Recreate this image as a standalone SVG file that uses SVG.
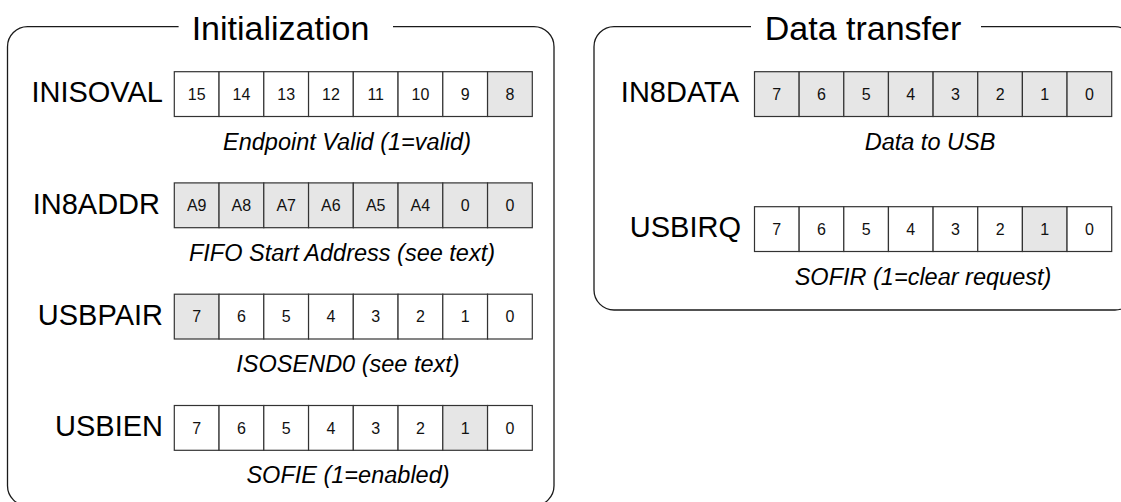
<svg xmlns="http://www.w3.org/2000/svg" width="1121" height="502" viewBox="0 0 1121 502">
<style>
.frame{fill:none;stroke:#1a1a1a;stroke-width:1.3}
.c{fill:#ffffff;stroke:#333333;stroke-width:1.2}
.g{fill:#e6e6e6;stroke:#333333;stroke-width:1.2}
.title{font-family:"Liberation Sans",Arial,sans-serif;font-size:34px;fill:#000;text-anchor:middle}
.lbl{font-family:"Liberation Sans",Arial,sans-serif;font-size:29px;fill:#000;text-anchor:end}
.n{font-family:"Liberation Sans",Arial,sans-serif;font-size:16px;fill:#111;text-anchor:middle}
.cap{font-family:"Liberation Sans",Arial,sans-serif;font-size:23.5px;font-style:italic;fill:#000;text-anchor:middle}
</style>
<rect width="1121" height="502" fill="#ffffff"/>
<g id="panel-initialization">
<path class="frame" d="M178.6,26.7 H27.5 A20,20 0 0 0 7.5,46.7 V485.7 A20,20 0 0 0 27.5,505.7 H534 A20,20 0 0 0 554,485.7 V46.7 A20,20 0 0 0 534,26.7 H393"/>
<text class="title" x="280.5" y="40">Initialization</text>
</g>
<g id="panel-data-transfer">
<path class="frame" d="M751,26.7 H614 A20,20 0 0 0 594,46.7 V290 A20,20 0 0 0 614,310 H1115 A20,20 0 0 0 1135,290 V46.7 A20,20 0 0 0 1115,26.7 H981"/>
<text class="title" x="863" y="40">Data transfer</text>
</g>
<g id="reg-INISOVAL">
<text class="lbl" x="163" y="102.3">INISOVAL</text>
<rect class="c" x="174.3" y="71.7" width="44.75" height="44.8"/>
<rect class="c" x="219.05" y="71.7" width="44.75" height="44.8"/>
<rect class="c" x="263.8" y="71.7" width="44.75" height="44.8"/>
<rect class="c" x="308.55" y="71.7" width="44.75" height="44.8"/>
<rect class="c" x="353.3" y="71.7" width="44.75" height="44.8"/>
<rect class="c" x="398.05" y="71.7" width="44.75" height="44.8"/>
<rect class="c" x="442.8" y="71.7" width="44.75" height="44.8"/>
<rect class="g" x="487.55" y="71.7" width="44.75" height="44.8"/>
<text class="n" x="196.7" y="99.7">15</text>
<text class="n" x="241.4" y="99.7">14</text>
<text class="n" x="286.2" y="99.7">13</text>
<text class="n" x="330.9" y="99.7">12</text>
<text class="n" x="375.7" y="99.7">11</text>
<text class="n" x="420.4" y="99.7">10</text>
<text class="n" x="465.2" y="99.7">9</text>
<text class="n" x="509.9" y="99.7">8</text>
<text class="cap" x="347" y="149.5">Endpoint Valid (1=valid)</text>
</g>
<g id="reg-IN8ADDR">
<text class="lbl" x="160" y="213.5">IN8ADDR</text>
<rect class="g" x="174.3" y="182.9" width="44.75" height="44.8"/>
<rect class="g" x="219.05" y="182.9" width="44.75" height="44.8"/>
<rect class="g" x="263.8" y="182.9" width="44.75" height="44.8"/>
<rect class="g" x="308.55" y="182.9" width="44.75" height="44.8"/>
<rect class="g" x="353.3" y="182.9" width="44.75" height="44.8"/>
<rect class="g" x="398.05" y="182.9" width="44.75" height="44.8"/>
<rect class="g" x="442.8" y="182.9" width="44.75" height="44.8"/>
<rect class="g" x="487.55" y="182.9" width="44.75" height="44.8"/>
<text class="n" x="196.7" y="210.9">A9</text>
<text class="n" x="241.4" y="210.9">A8</text>
<text class="n" x="286.2" y="210.9">A7</text>
<text class="n" x="330.9" y="210.9">A6</text>
<text class="n" x="375.7" y="210.9">A5</text>
<text class="n" x="420.4" y="210.9">A4</text>
<text class="n" x="465.2" y="210.9">0</text>
<text class="n" x="509.9" y="210.9">0</text>
<text class="cap" x="342" y="260.7">FIFO Start Address (see text)</text>
</g>
<g id="reg-USBPAIR">
<text class="lbl" x="163" y="324.8">USBPAIR</text>
<rect class="g" x="174.3" y="294.2" width="44.75" height="44.8"/>
<rect class="c" x="219.05" y="294.2" width="44.75" height="44.8"/>
<rect class="c" x="263.8" y="294.2" width="44.75" height="44.8"/>
<rect class="c" x="308.55" y="294.2" width="44.75" height="44.8"/>
<rect class="c" x="353.3" y="294.2" width="44.75" height="44.8"/>
<rect class="c" x="398.05" y="294.2" width="44.75" height="44.8"/>
<rect class="c" x="442.8" y="294.2" width="44.75" height="44.8"/>
<rect class="c" x="487.55" y="294.2" width="44.75" height="44.8"/>
<text class="n" x="196.7" y="322.2">7</text>
<text class="n" x="241.4" y="322.2">6</text>
<text class="n" x="286.2" y="322.2">5</text>
<text class="n" x="330.9" y="322.2">4</text>
<text class="n" x="375.7" y="322.2">3</text>
<text class="n" x="420.4" y="322.2">2</text>
<text class="n" x="465.2" y="322.2">1</text>
<text class="n" x="509.9" y="322.2">0</text>
<text class="cap" x="348" y="372">ISOSEND0 (see text)</text>
</g>
<g id="reg-USBIEN">
<text class="lbl" x="163" y="436.1">USBIEN</text>
<rect class="c" x="174.3" y="405.5" width="44.75" height="44.8"/>
<rect class="c" x="219.05" y="405.5" width="44.75" height="44.8"/>
<rect class="c" x="263.8" y="405.5" width="44.75" height="44.8"/>
<rect class="c" x="308.55" y="405.5" width="44.75" height="44.8"/>
<rect class="c" x="353.3" y="405.5" width="44.75" height="44.8"/>
<rect class="c" x="398.05" y="405.5" width="44.75" height="44.8"/>
<rect class="g" x="442.8" y="405.5" width="44.75" height="44.8"/>
<rect class="c" x="487.55" y="405.5" width="44.75" height="44.8"/>
<text class="n" x="196.7" y="433.5">7</text>
<text class="n" x="241.4" y="433.5">6</text>
<text class="n" x="286.2" y="433.5">5</text>
<text class="n" x="330.9" y="433.5">4</text>
<text class="n" x="375.7" y="433.5">3</text>
<text class="n" x="420.4" y="433.5">2</text>
<text class="n" x="465.2" y="433.5">1</text>
<text class="n" x="509.9" y="433.5">0</text>
<text class="cap" x="348" y="483.3">SOFIE (1=enabled)</text>
</g>
<g id="reg-IN8DATA">
<text class="lbl" x="739" y="102.3">IN8DATA</text>
<rect class="g" x="754.5" y="71.7" width="44.65" height="44.8"/>
<rect class="g" x="799.15" y="71.7" width="44.65" height="44.8"/>
<rect class="g" x="843.8" y="71.7" width="44.65" height="44.8"/>
<rect class="g" x="888.45" y="71.7" width="44.65" height="44.8"/>
<rect class="g" x="933.1" y="71.7" width="44.65" height="44.8"/>
<rect class="g" x="977.75" y="71.7" width="44.65" height="44.8"/>
<rect class="g" x="1022.4" y="71.7" width="44.65" height="44.8"/>
<rect class="g" x="1067.05" y="71.7" width="44.65" height="44.8"/>
<text class="n" x="776.8" y="99.7">7</text>
<text class="n" x="821.5" y="99.7">6</text>
<text class="n" x="866.1" y="99.7">5</text>
<text class="n" x="910.8" y="99.7">4</text>
<text class="n" x="955.4" y="99.7">3</text>
<text class="n" x="1000.1" y="99.7">2</text>
<text class="n" x="1044.7" y="99.7">1</text>
<text class="n" x="1089.4" y="99.7">0</text>
<text class="cap" x="930" y="149.5">Data to USB</text>
</g>
<g id="reg-USBIRQ">
<text class="lbl" x="741" y="237.3">USBIRQ</text>
<rect class="c" x="754.5" y="206.7" width="44.65" height="44.8"/>
<rect class="c" x="799.15" y="206.7" width="44.65" height="44.8"/>
<rect class="c" x="843.8" y="206.7" width="44.65" height="44.8"/>
<rect class="c" x="888.45" y="206.7" width="44.65" height="44.8"/>
<rect class="c" x="933.1" y="206.7" width="44.65" height="44.8"/>
<rect class="c" x="977.75" y="206.7" width="44.65" height="44.8"/>
<rect class="g" x="1022.4" y="206.7" width="44.65" height="44.8"/>
<rect class="c" x="1067.05" y="206.7" width="44.65" height="44.8"/>
<text class="n" x="776.8" y="234.7">7</text>
<text class="n" x="821.5" y="234.7">6</text>
<text class="n" x="866.1" y="234.7">5</text>
<text class="n" x="910.8" y="234.7">4</text>
<text class="n" x="955.4" y="234.7">3</text>
<text class="n" x="1000.1" y="234.7">2</text>
<text class="n" x="1044.7" y="234.7">1</text>
<text class="n" x="1089.4" y="234.7">0</text>
<text class="cap" x="923" y="284.5">SOFIR (1=clear request)</text>
</g>
<g id="connectors"></g>
</svg>
